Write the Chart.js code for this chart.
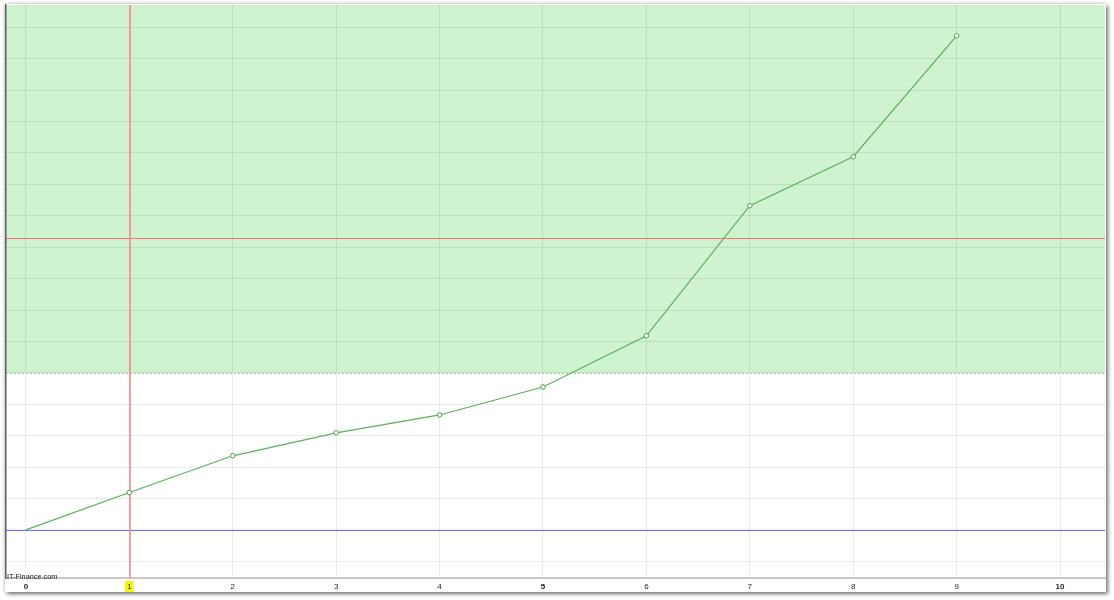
<!DOCTYPE html>
<html>
<head>
<meta charset="utf-8">
<script src="https://cdn.jsdelivr.net/npm/chart.js@4"></script>
<style>
  html, body { margin: 0; padding: 0; background: #ffffff; }
  #box {
    position: absolute; left: 5px; top: 4px; width: 1101px; height: 588px;
    background: #ffffff;
    box-shadow: 2px 2px 4px rgba(0,0,0,0.55), -1px -1px 3px rgba(0,0,0,0.15);
  }
  #brand {
    position: absolute; left: 2px; top: 568px;
    font: 7.3px Arial, "Liberation Sans", sans-serif; color: #222;
  }
</style>
</head>
<body>
<div id="box">
  <canvas id="myChart"></canvas>
  <div id="brand">IT-Finance.com</div>
</div>
<script>
const steps = [0, 1, 2, 3, 4, 5, 6, 7, 8, 9];
const equity = [0, 1.19, 2.36, 3.09, 3.66, 4.55, 6.18, 10.32, 11.88, 15.73];
const zoneLevel = 5;      // green zone starts here
const redLevel = 9.3;     // horizontal red line
const baseLevel = 0;      // blue line
const cursorStep = 1;     // vertical red line
const boldTicks = [0, 5, 10];

const levelsPlugin = {
    id: 'levels',
    beforeDraw(chart) {
        const {ctx, chartArea, scales} = chart;
        const y = scales.y.getPixelForValue(zoneLevel);
        ctx.save();
        ctx.fillStyle = '#cff2cf';
        ctx.fillRect(chartArea.left, chartArea.top, chartArea.right - chartArea.left, y - chartArea.top);
        ctx.restore();
    },
    beforeDatasetsDraw(chart) {
        const {ctx, chartArea, scales} = chart;
        ctx.save();
        ctx.lineWidth = 1;
        // dashed bottom edge of the zone
        const yz = Math.round(scales.y.getPixelForValue(zoneLevel)) + 0.5;
        ctx.strokeStyle = '#ffffff';
        ctx.beginPath();
        ctx.moveTo(chartArea.left, yz);
        ctx.lineTo(chartArea.right, yz);
        ctx.stroke();
        ctx.strokeStyle = '#8fd88f';
        ctx.setLineDash([2, 2]);
        ctx.beginPath();
        ctx.moveTo(chartArea.left, yz);
        ctx.lineTo(chartArea.right, yz);
        ctx.stroke();
        ctx.setLineDash([]);
        // blue base line
        const yb = Math.round(scales.y.getPixelForValue(baseLevel)) + 0.5;
        ctx.strokeStyle = '#7070ff';
        ctx.beginPath();
        ctx.moveTo(chartArea.left, yb);
        ctx.lineTo(chartArea.right, yb);
        ctx.stroke();
        // red horizontal level
        const yr = Math.round(scales.y.getPixelForValue(redLevel)) + 0.5;
        ctx.strokeStyle = '#f07474';
        ctx.beginPath();
        ctx.moveTo(chartArea.left, yr);
        ctx.lineTo(chartArea.right, yr);
        ctx.stroke();
        // cursor vertical line
        const xr = Math.round(scales.x.getPixelForValue(cursorStep)) + 1;
        ctx.strokeStyle = 'rgba(250,140,140,0.85)';
        ctx.lineWidth = 2;
        ctx.beginPath();
        ctx.moveTo(xr, chartArea.top);
        ctx.lineTo(xr, chartArea.bottom);
        ctx.stroke();
        ctx.restore();
    }
};

const ctx = document.getElementById('myChart').getContext('2d');

const myChart = new Chart(ctx, {
    type: 'line',
    data: {
        datasets: [{
            label: 'Equity',
            data: steps.map((s, i) => ({x: s, y: equity[i]})),
            borderColor: '#5cb05c',
            borderWidth: 1.2,
            backgroundColor: '#ffffff',
            pointBorderColor: '#4f9f4f',
            pointBorderWidth: 1,
            pointRadius: c => c.dataIndex === 0 ? 0 : 2.3,
            tension: 0
        }]
    },
    options: {
        responsive: true,
        maintainAspectRatio: false,
        animation: false,
        layout: {
            autoPadding: false,
            padding: {left: 1, right: 1, top: 1, bottom: 0}
        },
        plugins: {
            legend: {display: false},
            tooltip: {enabled: false}
        },
        scales: {
            x: {
                type: 'linear',
                min: -0.193,
                max: 10.435,
                afterFit: s => { s.height = 14; },
                border: {color: '#c4c8c8', width: 2},
                grid: {color: 'rgba(0,0,0,0.08)', drawTicks: false},
                ticks: {
                    stepSize: 1,
                    includeBounds: false,
                    padding: 4,
                    color: '#222',
                    font: c => ({
                        size: 8,
                        family: 'Arial, "Liberation Sans", sans-serif',
                        weight: boldTicks.includes(c.tick && c.tick.value) ? 'bold' : 'normal'
                    }),
                    showLabelBackdrop: c => c.tick && c.tick.value === cursorStep,
                    backdropColor: '#f4f400',
                    backdropPadding: {top: 1, bottom: 1, left: 2, right: 2}
                }
            },
            y: {
                type: 'linear',
                min: -1.53,
                max: 16.71,
                afterFit: s => { s.width = 0; },
                border: {color: '#56606a', width: 1.5},
                grid: {color: 'rgba(0,0,0,0.08)', drawTicks: false},
                ticks: {stepSize: 1, includeBounds: false, display: false}
            }
        }
    },
    plugins: [levelsPlugin]
});
</script>
</body>
</html>
